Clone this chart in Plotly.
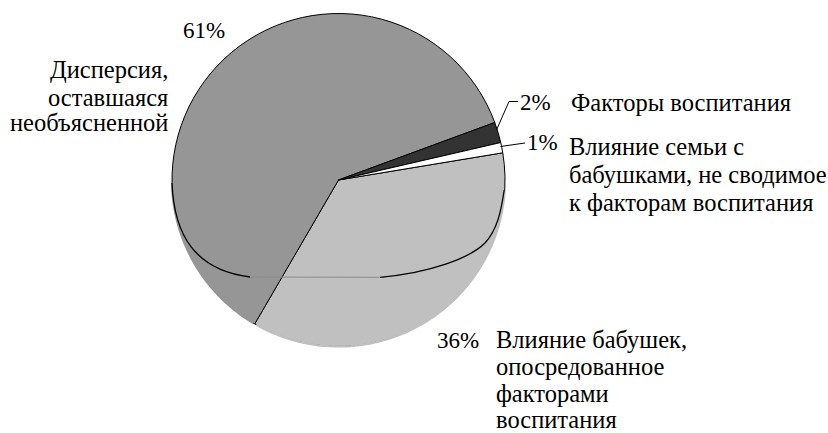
import numpy as np
import plotly.graph_objects as go

# ---------------- data ----------------
labels = [
    "Влияние бабушек, опосредованное факторами воспитания",
    "Дисперсия, оставшаяся необъясненной",
    "Факторы воспитания",
    "Влияние семьи с бабушками, не сводимое к факторам воспитания",
]
values = [36, 61, 2, 1]
pct_text = ["36%", "61%", "2%", "1%"]
label_lines = [
    ["Влияние бабушек,", "опосредованное", "факторами", "воспитания"],
    ["Дисперсия,", "оставшаяся", "необъясненной"],
    ["Факторы воспитания"],
    ["Влияние семьи с", "бабушками, не сводимое", "к факторам воспитания"],
]
colors = ["#C0C0C0", "#969696", "#333333", "#FFFFFF"]

# ---------------- geometry (pixels) ----------------
W, H = 828, 433
CX, CY, R = 338.5, 180.0, 166.5
ROT = 80.6
FAMILY = "Times New Roman, Liberation Serif, DejaVu Serif, Noto Serif, serif"
PCT_FONT = dict(family=FAMILY, size=23, color="black")
LBL_FONT = dict(family=FAMILY, size=24.5, color="black")


def paper(x, y):
    return x / W, 1 - y / H


def path_from_px(cmds):
    out = []
    for c in cmds:
        op, pts = c[0], c[1:]
        coords = " ".join("%.5f,%.5f" % paper(*p) for p in pts)
        out.append(op + " " + coords)
    return " ".join(out)


def arc_path(a0, a1, n=80):
    angs = np.radians(np.linspace(a0, a1, n))
    pts = [(CX + R * np.sin(a), CY - R * np.cos(a)) for a in angs]
    return "M " + " L ".join("%.5f,%.5f" % paper(*p) for p in pts)


fig = go.Figure(
    go.Pie(
        labels=labels,
        values=values,
        sort=False,
        direction="clockwise",
        rotation=ROT,
        marker=dict(colors=colors, line=dict(color="black", width=1)),
        textinfo="none",
        hoverinfo="label+percent",
        showlegend=False,
        domain=dict(x=[(CX - R) / W, (CX + R) / W], y=[1 - (CY + R) / H, 1 - (CY - R) / H]),
    )
)

cum = np.cumsum([0] + values) / sum(values) * 360 + ROT

shapes = []
shapes.append(dict(type="path", xref="paper", yref="paper", path=arc_path(93.44, cum[1] - 0.6),
                   line=dict(color=colors[0], width=2.2)))
shapes.append(dict(type="path", xref="paper", yref="paper", path=arc_path(cum[1] + 0.6, 268.97),
                   line=dict(color=colors[1], width=2.2)))
shapes.append(dict(type="path", xref="paper", yref="paper",
                   path=path_from_px([("M", (172.03, 183)), ("C", (174, 235), (195, 270), (250, 277))]),
                   line=dict(color="black", width=1.3)))
shapes.append(dict(type="path", xref="paper", yref="paper",
                   path=path_from_px([("M", (250, 277)), ("L", (380, 277.3))]),
                   line=dict(color="#8c8c8c", width=1)))
shapes.append(dict(type="path", xref="paper", yref="paper",
                   path=path_from_px([("M", (380, 277.3)), ("C", (430, 273), (470, 258), (485, 243)),
                                      ("C", (497, 230), (501, 212), (504.2, 190))]),
                   line=dict(color="black", width=1.3)))
shapes.append(dict(type="path", xref="paper", yref="paper",
                   path=path_from_px([("M", (496.5, 130)), ("L", (509, 101.5)), ("L", (518, 101.5))]),
                   line=dict(color="black", width=1)))
shapes.append(dict(type="path", xref="paper", yref="paper",
                   path=path_from_px([("M", (500.5, 146.5)), ("L", (525, 143))]),
                   line=dict(color="black", width=1)))


def ann(text, x, y, font, xanchor="left"):
    px_, py_ = paper(x, y)
    return dict(text=text, x=px_, y=py_, xref="paper", yref="paper", xanchor=xanchor,
                yanchor="middle", showarrow=False, font=font)


annotations = [
    ann(pct_text[1], 181, 30.5, PCT_FONT),
    ann(pct_text[2], 518, 102, PCT_FONT),
    ann(pct_text[3], 525, 142, PCT_FONT),
    ann(pct_text[0], 435, 340, PCT_FONT),
]
for line, yc in zip(label_lines[1], [69.5, 97, 122.5]):
    annotations.append(ann(line, 170, yc, LBL_FONT, xanchor="right"))
for line, yc in zip(label_lines[2], [102.5]):
    annotations.append(ann(line, 569, yc, LBL_FONT))
for line, yc in zip(label_lines[3], [146, 174.5, 202.5]):
    annotations.append(ann(line, 567, yc, LBL_FONT))
for line, yc in zip(label_lines[0], [339.5, 366.5, 393.5, 419.5]):
    annotations.append(ann(line, 494, yc, LBL_FONT))

fig.update_layout(
    width=W, height=H,
    margin=dict(l=0, r=0, t=0, b=0, autoexpand=False),
    paper_bgcolor="white", plot_bgcolor="white",
    font=dict(family=FAMILY),
    shapes=shapes, annotations=annotations,
    showlegend=False,
)

fig.write_html("out.html", config={"displayModeBar": False},
               post_script="document.body.style.margin='0';document.body.style.overflow='hidden';")
